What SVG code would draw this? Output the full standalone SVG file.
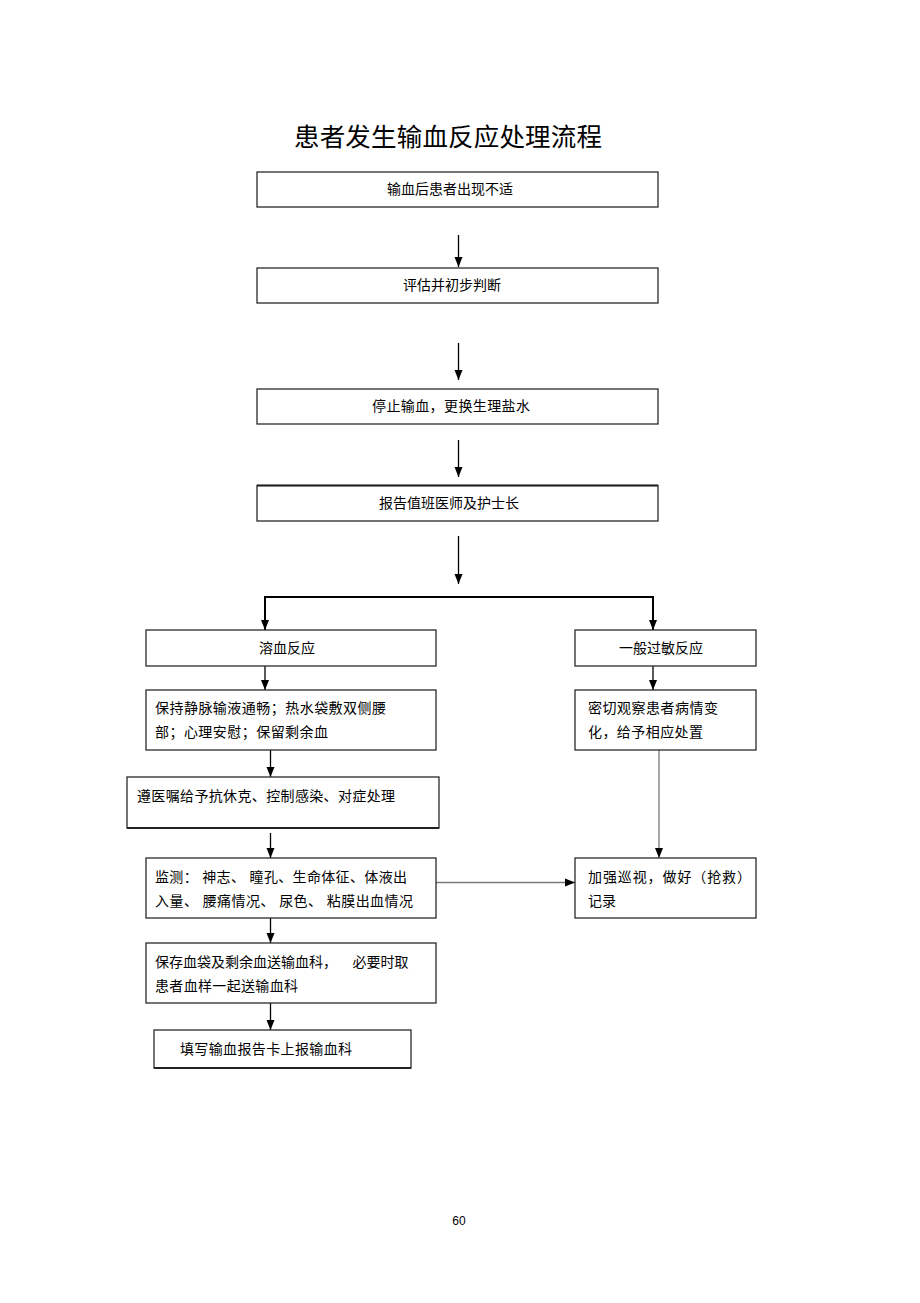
<svg xmlns="http://www.w3.org/2000/svg" width="920" height="1303" viewBox="0 0 920 1303">
<style>
.box{fill:#fff;stroke:#2a2a2a;stroke-width:1.3}
.t{font-family:"Liberation Sans","Noto Sans CJK SC",sans-serif;font-size:14px;fill:#000}
.c{text-anchor:middle}
.ln{stroke:#000;stroke-width:1.3;fill:none}
.gl{stroke:#777;stroke-width:1.3;fill:none}
</style>
<defs>
<marker id="ah" viewBox="0 0 10 10" refX="10" refY="5" markerWidth="10" markerHeight="10" markerUnits="userSpaceOnUse" orient="auto">
<path d="M0,1 L10,5 L0,9 Z" fill="#000"/>
</marker>
</defs>
<rect width="920" height="1303" fill="#fff"/>
<text x="448" y="146" text-anchor="middle" font-family="'Liberation Sans','Noto Sans CJK SC',sans-serif" font-size="25.5" fill="#000" textLength="308">患者发生输血反应处理流程</text>

<g id="connectors">
<line class="ln" x1="458.5" y1="235" x2="458.5" y2="267" marker-end="url(#ah)"/>
<line class="ln" x1="458.5" y1="343" x2="458.5" y2="380" marker-end="url(#ah)"/>
<line class="ln" x1="458.5" y1="440" x2="458.5" y2="477" marker-end="url(#ah)"/>
<line class="ln" x1="458.5" y1="536" x2="458.5" y2="584" marker-end="url(#ah)"/>
<path d="M265,630 V597 H653 V630" stroke="#000" stroke-width="2" fill="none"/>
<line class="ln" x1="265" y1="610" x2="265" y2="630" marker-end="url(#ah)"/>
<line class="ln" x1="653" y1="610" x2="653" y2="630" marker-end="url(#ah)"/>
<line class="ln" x1="265" y1="666" x2="265" y2="690" marker-end="url(#ah)"/>
<line class="ln" x1="653" y1="666" x2="653" y2="690" marker-end="url(#ah)"/>
<line class="ln" x1="270.5" y1="750" x2="270.5" y2="777" marker-end="url(#ah)"/>
<line class="ln" x1="270.5" y1="833" x2="270.5" y2="858" marker-end="url(#ah)"/>
<line class="ln" x1="270.5" y1="918" x2="270.5" y2="943" marker-end="url(#ah)"/>
<line class="ln" x1="270.5" y1="1003" x2="270.5" y2="1030" marker-end="url(#ah)"/>
<line class="gl" x1="659" y1="750" x2="659" y2="858" marker-end="url(#ah)"/>
<line class="gl" x1="436" y1="882.5" x2="575" y2="882.5" marker-end="url(#ah)"/>
</g>

<g id="n1"><rect class="box" x="257" y="172" width="401" height="35"/><text class="t c" x="450" y="194">输血后患者出现不适</text></g>
<g id="n2"><rect class="box" x="257" y="268" width="401" height="35"/><text class="t c" x="452" y="290">评估并初步判断</text></g>
<g id="n3"><rect class="box" x="257" y="389" width="401" height="35"/><text class="t c" x="451" y="411" textLength="158">停止输血，更换生理盐水</text></g>
<g id="n4"><rect class="box" x="257" y="485.5" width="401" height="35.5"/><line x1="257" y1="485.5" x2="658" y2="485.5" stroke="#222" stroke-width="2"/><text class="t c" x="449" y="508">报告值班医师及护士长</text></g>
<g id="n5"><rect class="box" x="146" y="630" width="290" height="36"/><text class="t c" x="287" y="653">溶血反应</text></g>
<g id="n6"><rect class="box" x="575" y="630" width="181" height="36"/><text class="t c" x="661" y="653">一般过敏反应</text></g>
<g id="n7"><rect class="box" x="146" y="690" width="290" height="60"/>
<text class="t" x="155" y="713" textLength="231">保持静脉输液通畅；热水袋敷双侧腰</text>
<text class="t" x="155" y="737" textLength="173">部；心理安慰；保留剩余血</text></g>
<g id="n8"><rect class="box" x="575" y="690" width="181" height="60"/>
<text class="t" x="588" y="713" textLength="130">密切观察患者病情变</text>
<text class="t" x="588" y="737" textLength="115">化，给予相应处置</text></g>
<g id="n9"><rect class="box" x="127" y="777" width="312" height="51"/><line x1="127" y1="828" x2="439" y2="828" stroke="#222" stroke-width="2"/>
<text class="t" x="137" y="801" textLength="258">遵医嘱给予抗休克、控制感染、对症处理</text></g>
<g id="n10"><rect class="box" x="146" y="858" width="290" height="60"/>
<text class="t" x="155" y="882" textLength="252">监测： 神志、 瞳孔、生命体征、体液出</text>
<text class="t" x="155" y="906" textLength="258">入量、 腰痛情况、 尿色、 粘膜出血情况</text></g>
<g id="n11"><rect class="box" x="575" y="858" width="181" height="60"/>
<text class="t" x="588" y="882" textLength="163">加强巡视，做好（抢救）</text>
<text class="t" x="588" y="906">记录</text></g>
<g id="n12"><rect class="box" x="146" y="943" width="290" height="60"/>
<text class="t" x="155" y="967" xml:space="preserve" style="white-space:pre">保存血袋及剩余血送输血科，    必要时取</text>
<text class="t" x="155" y="991" textLength="143">患者血样一起送输血科</text></g>
<g id="n13"><rect class="box" x="154" y="1030" width="257" height="38"/><line x1="154" y1="1068" x2="411" y2="1068" stroke="#222" stroke-width="2"/>
<text class="t" x="180" y="1054" textLength="172">填写输血报告卡上报输血科</text></g>

<text x="459" y="1225" text-anchor="middle" font-family="'Liberation Sans',sans-serif" font-size="12" fill="#000">60</text>
</svg>
